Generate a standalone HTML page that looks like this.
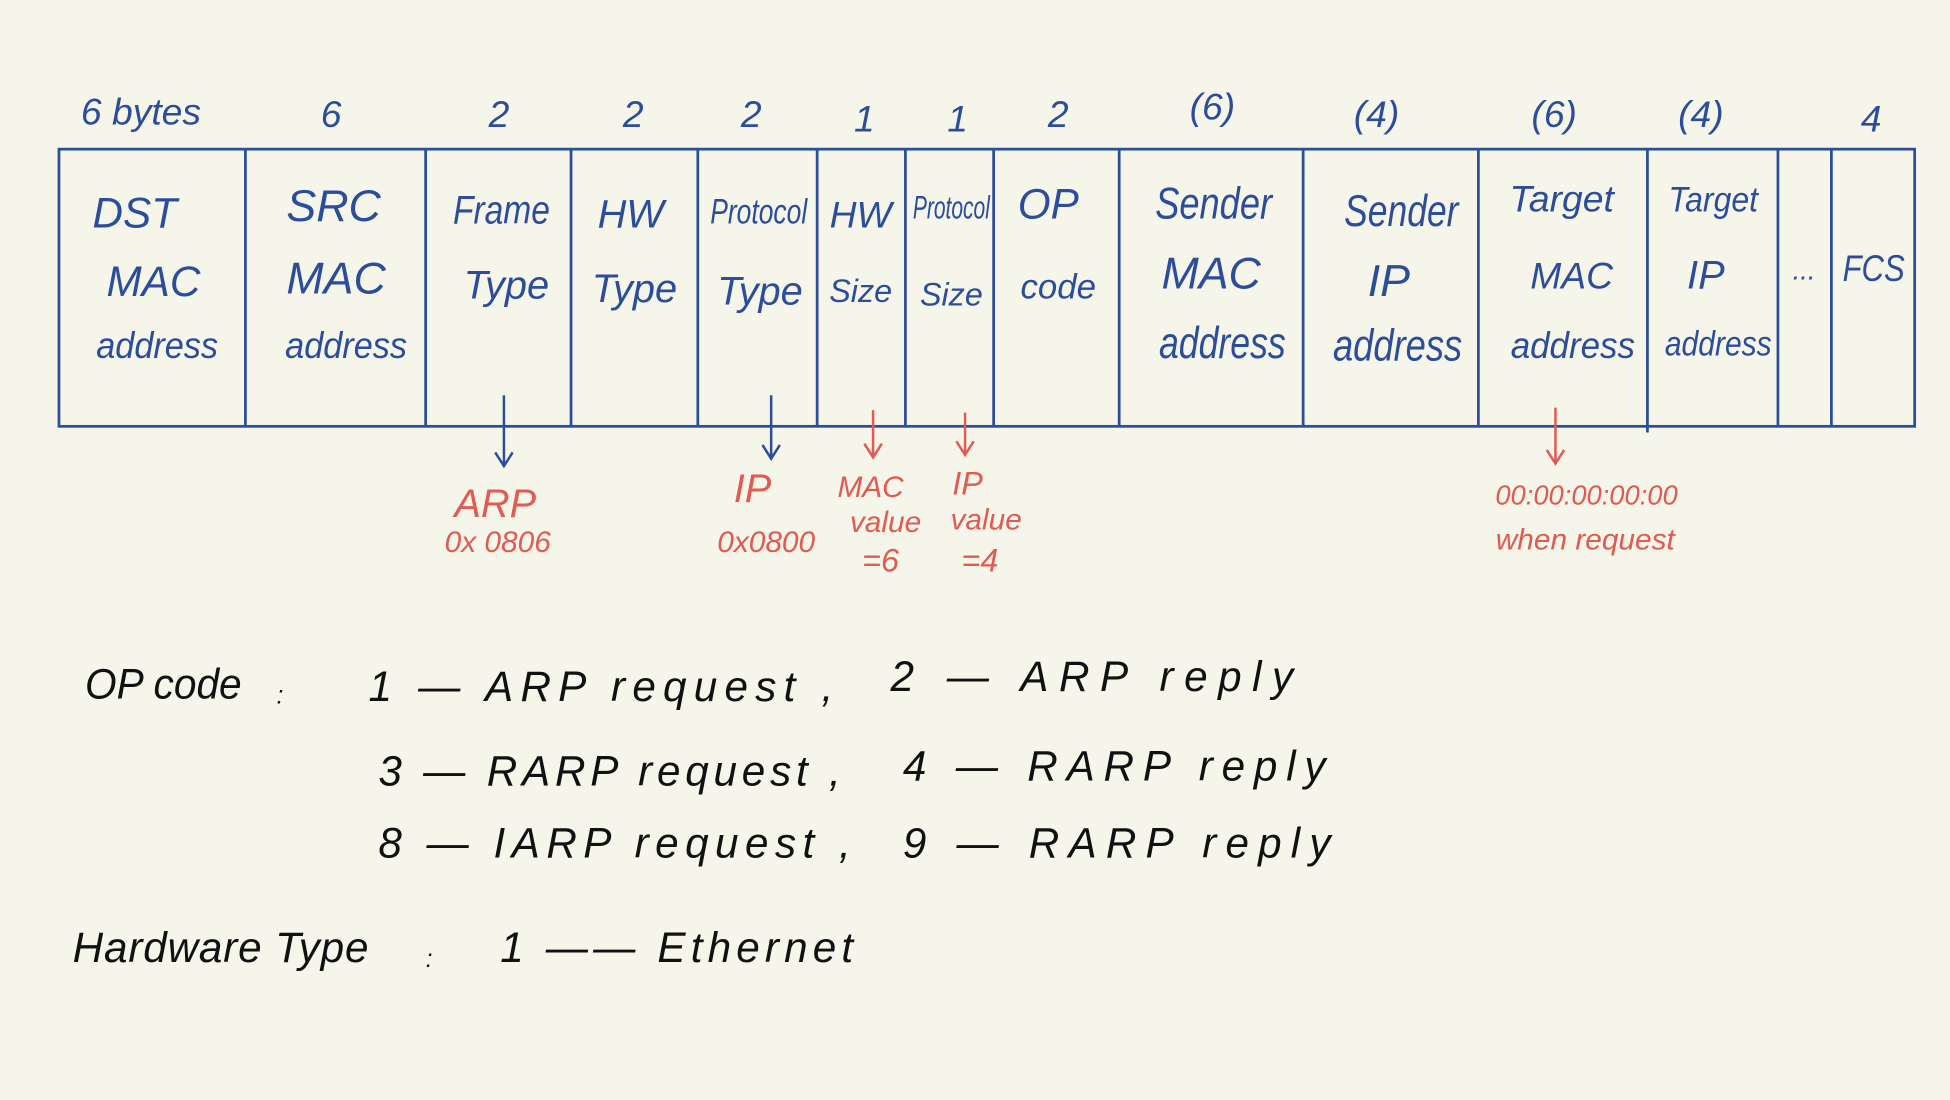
<!DOCTYPE html>
<html><head><meta charset="utf-8"><style>
html,body{margin:0;padding:0;background:#f6f5ea;}
svg{display:block}
.b{fill:#2b4d9c;font-family:"Liberation Sans",sans-serif;font-style:italic}
.r{fill:#e25a52;font-family:"Liberation Sans",sans-serif;font-style:italic}
.k{fill:#111;font-family:"Liberation Sans",sans-serif;font-style:italic}
</style></head><body>
<svg width="1950" height="1100" viewBox="0 0 1568 885">
<rect width="1568" height="885" fill="#f6f5ea"/>
<g class="b" font-size="30" text-anchor="middle">
<text x="113" y="100">6 bytes</text><text x="266" y="102">6</text><text x="401" y="102">2</text>
<text x="509" y="102">2</text><text x="604" y="102">2</text><text x="695" y="106">1</text>
<text x="770" y="106">1</text><text x="851" y="102">2</text><text x="975" y="96">(6)</text>
<text x="1107" y="102">(4)</text><text x="1250" y="102">(6)</text><text x="1368" y="102">(4)</text>
<text x="1505" y="106">4</text>
</g>
<g stroke="#2b4d9c" stroke-width="2.2" fill="none">
<rect x="47" y="120" width="1493" height="223"/>
<path d="M197 120V343M342 120V343M459 120V343M561 120V343M657 120V343M728 120V343M799 120V343M900 120V343M1048 120V343M1189 120V343M1325 120V348M1430 120V343M1473 120V343"/>
</g>
<g class="b" text-anchor="middle">
<g font-size="34"><text x="108" y="183">DST</text><text x="123" y="238">MAC</text><text x="126" y="288" font-size="30" textLength="98" lengthAdjust="spacingAndGlyphs">address</text></g>
<g font-size="36"><text x="268" y="178">SRC</text><text x="270" y="236">MAC</text><text x="278" y="288" font-size="30" textLength="98" lengthAdjust="spacingAndGlyphs">address</text></g>
<g font-size="32"><text x="403" y="180" textLength="78" lengthAdjust="spacingAndGlyphs">Frame</text><text x="407" y="240">Type</text></g>
<g font-size="32"><text x="507" y="183">HW</text><text x="510" y="243">Type</text></g>
<g font-size="28"><text x="610" y="180" textLength="78" lengthAdjust="spacingAndGlyphs">Protocol</text><text x="611" y="245" font-size="32">Type</text></g>
<g font-size="30"><text x="692" y="183">HW</text><text x="692" y="243" font-size="26">Size</text></g>
<g font-size="26"><text x="765" y="176" textLength="62" lengthAdjust="spacingAndGlyphs">Protocol</text><text x="765" y="246">Size</text></g>
<g font-size="34"><text x="843" y="176">OP</text><text x="851" y="240" font-size="28">code</text></g>
<g font-size="36"><text x="976" y="176" textLength="94" lengthAdjust="spacingAndGlyphs">Sender</text><text x="974" y="232">MAC</text><text x="983" y="288" textLength="102" lengthAdjust="spacingAndGlyphs">address</text></g>
<g font-size="36"><text x="1127" y="182" textLength="92" lengthAdjust="spacingAndGlyphs">Sender</text><text x="1117" y="238">IP</text><text x="1124" y="290" textLength="104" lengthAdjust="spacingAndGlyphs">address</text></g>
<g font-size="30"><text x="1256" y="170">Target</text><text x="1264" y="232">MAC</text><text x="1265" y="288" textLength="100" lengthAdjust="spacingAndGlyphs">address</text></g>
<g font-size="28"><text x="1378" y="170" textLength="72" lengthAdjust="spacingAndGlyphs">Target</text><text x="1372" y="232" font-size="32">IP</text><text x="1382" y="286" textLength="86" lengthAdjust="spacingAndGlyphs">address</text></g>
<text x="1451" y="225" font-size="22">...</text>
<text x="1507" y="226" font-size="30" textLength="50" lengthAdjust="spacingAndGlyphs">FCS</text>
</g>
<g fill="none" stroke-width="2">
<path d="M405 318V374M398 364L405 375L412 364" stroke="#2b4d9c"/>
<path d="M620 318V368M613 358L620 369L627 358" stroke="#2b4d9c"/>
<path d="M702 330V367M695 357L702 368L709 357" stroke="#e25a52"/>
<path d="M776 332V365M769 355L776 366L783 355" stroke="#e25a52"/>
<path d="M1251 328V372M1244 362L1251 373L1258 362" stroke="#e25a52"/>
</g>
<g class="r" text-anchor="middle">
<text x="398" y="416" font-size="32">ARP</text><text x="400" y="444" font-size="24">0x 0806</text>
<text x="605" y="404" font-size="32">IP</text><text x="616" y="444" font-size="24">0x0800</text>
<text x="700" y="400" font-size="24">MAC</text><text x="712" y="428" font-size="24">value</text><text x="708" y="460" font-size="26">=6</text>
<text x="778" y="398" font-size="26">IP</text><text x="793" y="426" font-size="24">value</text><text x="788" y="460" font-size="26">=4</text>
<text x="1276" y="406" font-size="22">00:00:00:00:00</text><text x="1275" y="442" font-size="24">when request</text>
</g>
<g class="k" font-size="34">
<text x="68" y="562" textLength="126" lengthAdjust="spacingAndGlyphs">OP code</text><text x="222" y="566" font-size="20">:</text>
<text x="296" y="564" textLength="374" lengthAdjust="spacing">1 — ARP request ,</text><text x="716" y="556" textLength="324" lengthAdjust="spacing">2 — ARP reply</text>
<text x="304" y="632" textLength="372" lengthAdjust="spacing">3 — RARP request ,</text><text x="726" y="628" textLength="340" lengthAdjust="spacing">4 — RARP reply</text>
<text x="304" y="690" textLength="380" lengthAdjust="spacing">8 — IARP request ,</text><text x="726" y="690" textLength="344" lengthAdjust="spacing">9 — RARP reply</text>
<text x="58" y="774" textLength="238" lengthAdjust="spacing">Hardware Type</text><text x="342" y="778" font-size="20">:</text>
<text x="402" y="774" textLength="284" lengthAdjust="spacing">1 —— Ethernet</text>
</g>
</svg>
</body></html>
